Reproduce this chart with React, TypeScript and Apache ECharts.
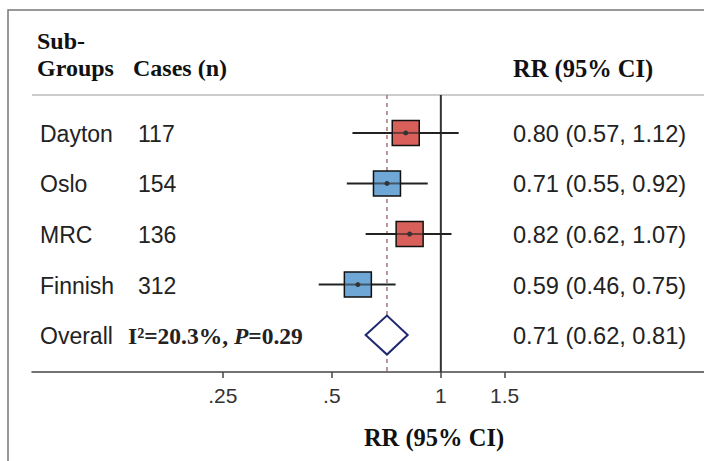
import React, { useEffect, useRef } from "react";
import * as echarts from "echarts";

// ---- data ----
const groups = ["Dayton", "Oslo", "MRC", "Finnish", "Overall"];
const cases = ["117", "154", "136", "312", ""];
const rrEstimate = [0.8, 0.71, 0.82, 0.59, 0.71];
const rrLower = [0.57, 0.55, 0.62, 0.46, 0.62];
const rrUpper = [1.12, 0.92, 1.07, 0.75, 0.81];
const heterogeneityI2 = "20.3%";
const heterogeneityP = "0.29";
const tickValues = [0.25, 0.5, 1, 1.5];
const tickLabels = [".25", ".5", "1", "1.5"];
const nullValue = 1;

// ---- styles ----
const studyFill = ["#d9605a", "#6fa8d6", "#d9605a", "#6fa8d6"];
const SANS = "'Liberation Sans', Arial, sans-serif";
const SERIF = "'Liberation Serif', 'Times New Roman', serif";

const overallIndex = groups.length - 1;

function fmt(v: number) {
  return v.toFixed(2);
}

export default function App() {
  const ref = useRef<HTMLDivElement>(null);

  useEffect(() => {
    if (!ref.current) return;
    const chart = echarts.init(ref.current, null, { renderer: "svg" });

    const rowData = groups.map((g, i) => [rrEstimate[i], i, rrLower[i], rrUpper[i]]);

    const option: any = {
      animation: false,
      backgroundColor: "#fff",
      grid: { left: 32, right: 0, top: 95, bottom: 89, containLabel: false },
      xAxis: {
        type: "log",
        logBase: 2,
        min: 0.0743,
        max: 5.33,
        axisLine: { show: true, onZero: false, lineStyle: { color: "#444", width: 1.5 } },
        axisTick: {
          show: true,
          length: 6,
          customValues: tickValues,
          lineStyle: { color: "#444", width: 1.5 },
        },
        axisLabel: {
          show: true,
          customValues: tickValues,
          margin: 13,
          fontFamily: SANS,
          fontSize: 21,
          color: "#333",
          formatter: (v: number) => {
            const idx = tickValues.findIndex((t) => Math.abs(t - v) < 1e-6);
            return idx >= 0 ? tickLabels[idx] : "";
          },
        },
        splitLine: { show: false },
      },
      yAxis: {
        type: "value",
        min: -0.75,
        max: 4.73,
        inverse: true,
        show: false,
      },
      graphic: [
        {
          type: "rect",
          shape: { x: 8, y: 10, width: 800, height: 600 },
          style: { fill: "none", stroke: "#777", lineWidth: 1.5 },
          silent: true,
        },
        {
          type: "line",
          shape: { x1: 32, y1: 95, x2: 704, y2: 95 },
          style: { stroke: "#bbb", lineWidth: 1.5 },
          silent: true,
        },
        {
          type: "text",
          x: 37,
          y: 41,
          style: { text: "Sub-", font: `bold 24px ${SERIF}`, fill: "#111", verticalAlign: "middle" },
        },
        {
          type: "text",
          x: 37,
          y: 68,
          style: { text: "Groups", font: `bold 24px ${SERIF}`, fill: "#111", verticalAlign: "middle" },
        },
        {
          type: "text",
          x: 133,
          y: 68,
          style: { text: "Cases (n)", font: `bold 24px ${SERIF}`, fill: "#111", verticalAlign: "middle" },
        },
        {
          type: "text",
          x: 513,
          y: 68,
          style: { text: "RR (95% CI)", font: `bold 24.5px ${SERIF}`, fill: "#111", verticalAlign: "middle" },
        },
        {
          type: "text",
          x: 434,
          y: 437,
          style: {
            text: "RR (95% CI)",
            font: `bold 24.5px ${SERIF}`,
            fill: "#111",
            align: "center",
            verticalAlign: "middle",
          },
        },
      ],
      series: [
        {
          type: "custom",
          name: "reference lines",
          z: 1,
          silent: true,
          data: [[nullValue, 0], [rrEstimate[overallIndex], 1]],
          encode: { x: 0, y: 1 },
          renderItem: (params: any, api: any) => {
            const v = api.value(0);
            const kind = api.value(1);
            const top = api.coord([v, -0.75]);
            const bottom = api.coord([v, 4.73]);
            return {
              type: "line",
              shape: { x1: top[0], y1: top[1], x2: bottom[0], y2: bottom[1] },
              style:
                kind === 0
                  ? { stroke: "#333", lineWidth: 2 }
                  : { stroke: "#a8727c", lineWidth: 1.5, lineDash: [4, 4] },
            };
          },
        },
        {
          type: "custom",
          name: "forest",
          z: 3,
          silent: true,
          data: rowData,
          encode: { x: [0, 2, 3], y: 1 },
          renderItem: (params: any, api: any) => {
            const i = params.dataIndex;
            const est = api.coord([api.value(0), api.value(1)]);
            const lo = api.coord([api.value(2), api.value(1)]);
            const hi = api.coord([api.value(3), api.value(1)]);
            const y = est[1];
            const children: any[] = [];
            const rrText = `${fmt(rrEstimate[i])} (${fmt(rrLower[i])}, ${fmt(rrUpper[i])})`;

            children.push({
              type: "text",
              x: 40,
              y: y + 1,
              style: { text: groups[i], font: `23px ${SANS}`, fill: "#222", verticalAlign: "middle" },
            });
            children.push({
              type: "text",
              x: 513,
              y: y + 1,
              style: { text: rrText, font: `23.6px ${SANS}`, fill: "#222", verticalAlign: "middle" },
            });

            if (i === overallIndex) {
              children.push({
                type: "text",
                x: 128,
                y: y + 1,
                style: {
                  text: `{b|I²=${heterogeneityI2}, }{i|P}{b|=${heterogeneityP}}`,
                  verticalAlign: "middle",
                  rich: {
                    b: { font: `bold 23.5px ${SERIF}`, fill: "#222" },
                    i: { font: `italic bold 23.5px ${SERIF}`, fill: "#222" },
                  },
                },
              });
              const h = 19.5;
              children.push({
                type: "polygon",
                shape: {
                  points: [
                    [lo[0], y],
                    [est[0], y - h],
                    [hi[0], y],
                    [est[0], y + h],
                  ],
                },
                style: { fill: "#fff", stroke: "#1f2a6e", lineWidth: 2 },
              });
            } else {
              children.push({
                type: "text",
                x: 138,
                y: y + 1,
                style: { text: cases[i], font: `23px ${SANS}`, fill: "#222", verticalAlign: "middle" },
              });
              children.push({
                type: "line",
                shape: { x1: lo[0], y1: y, x2: hi[0], y2: y },
                style: { stroke: "#222", lineWidth: 2 },
              });
              children.push({
                type: "rect",
                shape: { x: est[0] - 13.5, y: y - 12.5, width: 27, height: 25 },
                style: { fill: studyFill[i], stroke: "#111", lineWidth: 1.5 },
              });
              children.push({
                type: "line",
                shape: { x1: est[0] - 13.5, y1: y, x2: est[0] + 13.5, y2: y },
                style: { stroke: "#222", lineWidth: 2, opacity: 0.6 },
              });
              children.push({
                type: "circle",
                shape: { cx: est[0], cy: y, r: 2.5 },
                style: { fill: "#333" },
              });
            }
            return { type: "group", children };
          },
        },
      ],
    };

    chart.setOption(option);
    return () => chart.dispose();
  }, []);

  return (
    <div
      ref={ref}
      style={{ position: "absolute", left: 0, top: 0, width: 704, height: 461 }}
    />
  );
}
